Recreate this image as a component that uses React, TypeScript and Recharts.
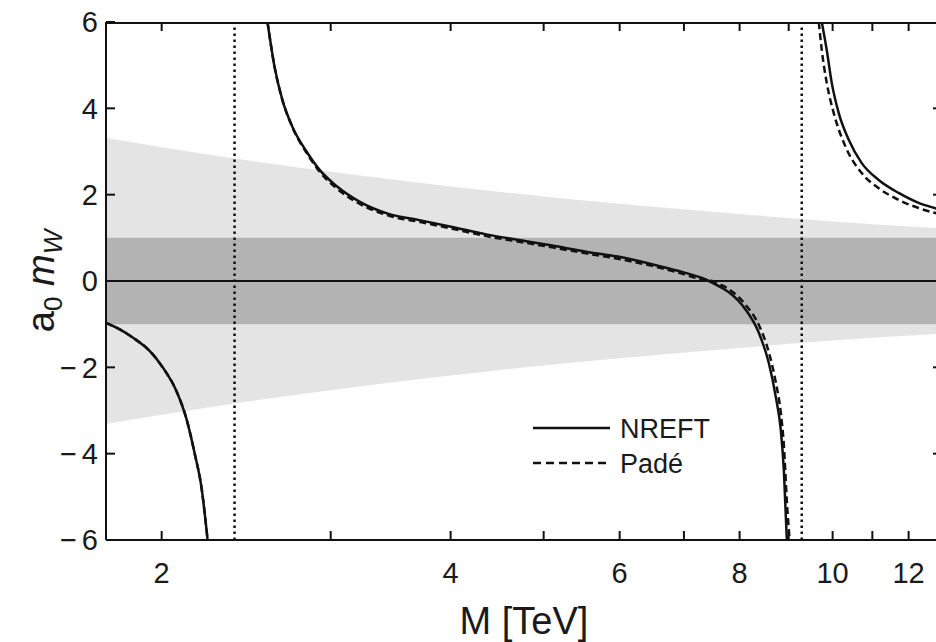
import React from 'react';
import { Area, ComposedChart, Legend, Line, ReferenceLine, XAxis, YAxis } from 'recharts';

const FONT = '"Liberation Sans", Arial, sans-serif';
const INK = '#111';
const TEXT = '#1a1a1a';

// axis ticks
const X_TICKS = [2, 3, 4, 5, 6, 7, 8, 9, 10, 11, 12];
const X_LABELED = [2, 4, 6, 8, 10, 12];
const Y_TICKS = [-6, -4, -2, 0, 2, 4, 6];
const X_MIN = 1.75;
const X_MAX = 13;
const Y_MIN = -6;
const Y_MAX = 6;

// dotted verticals (poles)
const POLES = [2.382, 9.286];

// light grey uncertainty funnel (half width, symmetric about 0)
const BAND_M = [1.75, 2, 2.5, 3, 4, 5, 6, 8, 10, 13];
const BAND_HALF = [3.31, 3.1, 2.77, 2.53, 2.19, 1.96, 1.79, 1.55, 1.38, 1.22];

// dark grey band |a0 mW| < 1
const INNER_M = [1.75, 13];
const INNER_HALF = [1, 1];

// zero line
const ZERO_M = [1.75, 13];
const ZERO_A = [0, 0];

// NREFT branches
const NREFT_LEFT_M = [1.75, 1.809, 1.866, 1.943, 2.005, 2.073, 2.123, 2.164, 2.201, 2.233];
const NREFT_LEFT_A = [-0.97, -1.12, -1.31, -1.62, -2.0, -2.56, -3.2, -3.98, -4.8, -6];
const NREFT_MID_M = [2.578, 2.622, 2.672, 2.737, 2.831, 2.92, 3.042, 3.214, 3.453, 3.711, 4.016, 4.357, 4.715, 5.103, 5.536, 5.991, 6.484, 6.917, 7.308, 7.432, 7.668, 7.796, 8.121, 8.378, 8.581, 8.726, 8.831, 8.896, 8.96];
const NREFT_MID_A = [6, 4.96, 4.19, 3.57, 3.0, 2.58, 2.2, 1.84, 1.55, 1.41, 1.25, 1.08, 0.95, 0.82, 0.68, 0.56, 0.39, 0.23, 0.07, 0, -0.16, -0.26, -0.67, -1.2, -1.9, -2.69, -3.45, -4.38, -6];
const NREFT_RIGHT_M = [9.743, 9.86, 9.979, 10.148, 10.394, 10.723, 11.168, 11.716, 12.29, 12.77, 13];
const NREFT_RIGHT_A = [6, 5.35, 4.59, 3.89, 3.27, 2.73, 2.34, 2.04, 1.81, 1.69, 1.64];

// Padé branches (left branch coincides with NREFT)
const PADE_MID_M = [2.578, 2.622, 2.672, 2.737, 2.831, 2.92, 3.042, 3.214, 3.453, 3.711, 4.016, 4.357, 4.715, 5.103, 5.536, 5.991, 6.484, 6.917, 7.308, 7.49, 7.668, 7.796, 8.121, 8.378, 8.581, 8.726, 8.831, 8.896, 8.96, 9.02];
const PADE_MID_A = [6, 4.96, 4.19, 3.56, 2.97, 2.54, 2.15, 1.79, 1.51, 1.37, 1.21, 1.04, 0.91, 0.78, 0.64, 0.51, 0.35, 0.19, 0.04, 0, -0.1, -0.19, -0.56, -1.02, -1.65, -2.35, -3.05, -3.8, -5.1, -6];
const PADE_RIGHT_M = [9.674, 9.743, 9.86, 10.027, 10.32, 10.723, 11.168, 11.716, 12.29, 12.77, 13];
const PADE_RIGHT_A = [6, 5.35, 4.59, 3.89, 3.1, 2.5, 2.15, 1.88, 1.69, 1.58, 1.54];

const pts = (ms: number[], as: number[]) => ms.map((x, i) => ({ x, y: as[i] }));
const band = (ms: number[], hs: number[]) => ms.map((x, i) => ({ x, y: [-hs[i], hs[i]] }));

function BottomTick({ x, y, payload }: any) {
  return (
    <g>
      <line x1={x} x2={x} y1={y} y2={y - 9} stroke={INK} strokeWidth={2} />
      {X_LABELED.includes(payload.value) ? (
        <text x={x} y={y + 43} textAnchor="middle" fontSize={29} fontFamily={FONT} fill={TEXT}>{payload.value}</text>
      ) : null}
    </g>
  );
}

function LeftTick({ x, y, payload }: any) {
  const v = payload.value;
  return (
    <g>
      <line x1={x} x2={x + 9} y1={y} y2={y} stroke={INK} strokeWidth={2} />
      <text x={x - 8} y={y} dy="0.36em" textAnchor="end" fontSize={29} fontFamily={FONT} fill={TEXT}>
        {v < 0 ? <tspan>{'\u2212'}</tspan> : null}
        <tspan dx={v < 0 ? 5 : 0}>{Math.abs(v)}</tspan>
      </text>
    </g>
  );
}

// inward tick marks on the top and right frame edges, drawn as dots of helper series
const topMark = (p: any) => (
  <line key={p.key ?? `t${p.index}`} x1={p.cx} x2={p.cx} y1={p.cy} y2={p.cy + 9} stroke={INK} strokeWidth={2} />
);
const rightMark = (p: any) => (
  <line key={p.key ?? `r${p.index}`} x1={p.cx} x2={p.cx - 9} y1={p.cy} y2={p.cy} stroke={INK} strokeWidth={2} />
);

function LegendBox() {
  return (
    <svg width={240} height={80} style={{ display: 'block' }}>
      <line x1={3} x2={80} y1={18} y2={18} stroke={INK} strokeWidth={2.5} />
      <text x={90} y={18} dy="0.36em" fontSize={27} fontFamily={FONT} fill={TEXT}>NREFT</text>
      <line x1={3} x2={80} y1={53} y2={53} stroke={INK} strokeWidth={2.5} strokeDasharray="8 5" />
      <text x={90} y={53} dy="0.36em" fontSize={27} fontFamily={FONT} fill={TEXT}>Padé</text>
    </svg>
  );
}

export default function App() {
  const solid = { type: 'monotone' as const, dataKey: 'y', stroke: INK, strokeWidth: 2.5, dot: false, isAnimationActive: false, legendType: 'none' as const };
  const dashed = { ...solid, strokeDasharray: '7 4' };
  const topTicks = X_TICKS.map((t) => ({ x: t, y: Y_MAX }));
  const rightTicks = Y_TICKS.map((t) => ({ x: X_MAX, y: t }));
  return (
    <div style={{ position: 'absolute', left: 0, top: 0, width: 936, height: 642, overflow: 'hidden', background: '#fff', fontFamily: FONT }}>
      <ComposedChart width={950} height={642} margin={{ top: 22, right: 8, left: 0, bottom: 0 }}>
        <XAxis
          dataKey="x" type="number" scale="log" domain={[X_MIN, X_MAX]} allowDataOverflow ticks={X_TICKS} interval={0}
          height={102} tickSize={0} tickMargin={0} tickLine={false} axisLine={{ stroke: INK, strokeWidth: 2 }} tick={<BottomTick />}
          label={{ content: () => <text x={524} y={634} textAnchor="middle" fontSize={38} fontFamily={FONT} fill={TEXT}>M [TeV]</text> }}
        />
        <YAxis
          type="number" domain={[Y_MIN, Y_MAX]} allowDataOverflow ticks={Y_TICKS} interval={0} width={106}
          tickSize={0} tickMargin={0} tickLine={false} axisLine={{ stroke: INK, strokeWidth: 2 }} tick={<LeftTick />}
          label={{
            content: () => (
              <text transform="translate(54,281) rotate(-90)" textAnchor="middle" fontSize={38} fontFamily={FONT} fill={TEXT}>
                a<tspan fontSize={26} dy={8}>0</tspan>
                <tspan dy={-8}> </tspan>
                <tspan fontStyle="italic">m</tspan>
                <tspan fontStyle="italic" fontSize={26} dy={8}>W</tspan>
              </text>
            ),
          }}
        />

        <Area data={band(BAND_M, BAND_HALF)} type="monotone" dataKey="y" stroke="none" fill="#e4e4e4" fillOpacity={1} isAnimationActive={false} legendType="none" />
        <Area data={band(INNER_M, INNER_HALF)} type="linear" dataKey="y" stroke="none" fill="#b3b3b3" fillOpacity={1} isAnimationActive={false} legendType="none" />
        <Line type="linear" dataKey="y" data={pts(ZERO_M, ZERO_A)} stroke={INK} strokeWidth={2} dot={false} isAnimationActive={false} legendType="none" />

        {POLES.map((p) => (
          <ReferenceLine key={p} x={p} stroke={INK} strokeWidth={2.5} strokeDasharray="2.5 3.5" />
        ))}

        {/* frame: top edge (half the stroke is clipped by the plot area) and inward ticks on top / right */}
        <Line type="linear" dataKey="y" data={pts([X_MIN, X_MAX], [Y_MAX, Y_MAX])} stroke={INK} strokeWidth={4} dot={false} isAnimationActive={false} legendType="none" />
        <Line type="linear" dataKey="y" data={topTicks} stroke="none" dot={topMark} isAnimationActive={false} legendType="none" />
        <Line type="linear" dataKey="y" data={rightTicks} stroke="none" dot={rightMark} isAnimationActive={false} legendType="none" />

        <Line {...dashed} data={pts(NREFT_LEFT_M, NREFT_LEFT_A)} />
        <Line {...dashed} data={pts(PADE_MID_M, PADE_MID_A)} />
        <Line {...dashed} data={pts(PADE_RIGHT_M, PADE_RIGHT_A)} />
        <Line {...solid} data={pts(NREFT_LEFT_M, NREFT_LEFT_A)} />
        <Line {...solid} data={pts(NREFT_MID_M, NREFT_MID_A)} />
        <Line {...solid} data={pts(NREFT_RIGHT_M, NREFT_RIGHT_A)} />

        <Legend
          layout="vertical" align="center" verticalAlign="middle"
          wrapperStyle={{ left: 530, top: 410, width: 240, height: 80 }}
          content={() => <LegendBox />}
        />
      </ComposedChart>
    </div>
  );
}
